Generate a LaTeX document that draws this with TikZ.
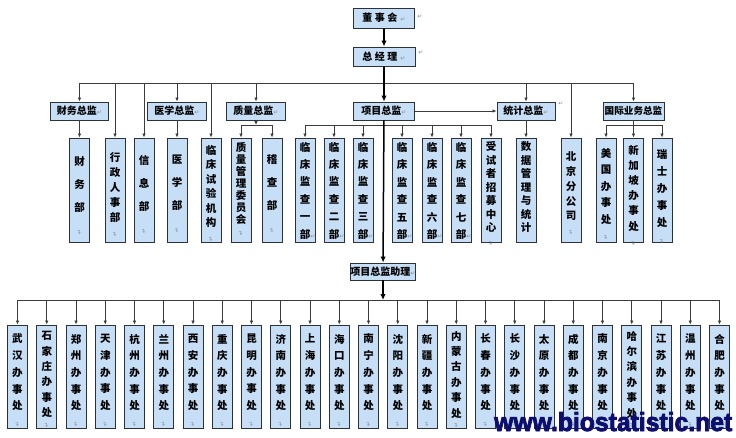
\documentclass[tikz,border=0pt]{standalone}
\usepackage{fontspec}
\usepackage{graphicx}
\setmainfont{Noto Sans CJK SC}
\newfontfamily\djv{DejaVu Sans}
\newfontfamily\wmfont{Liberation Sans}[FakeBold=3]
\usetikzlibrary{arrows.meta}
\definecolor{boxfill}{RGB}{198,222,246}
\definecolor{boxline}{RGB}{45,50,58}
\definecolor{connc}{RGB}{60,60,60}
\definecolor{navy}{RGB}{14,14,112}
\definecolor{mkgray}{RGB}{130,140,150}
\newcommand\retmk{{\djv\mdseries\fontsize{6}{6}\selectfont\textcolor{mkgray}{↵}}}
\newcommand\vretmk{\vphantom{国}\rotatebox{90}{\retmk}}
\tikzset{
  hbox/.style={draw=boxline, fill=boxfill, line width=0.9pt, inner sep=0pt,
    minimum height=18pt, font=\fontsize{10}{10}\selectfont\bfseries},
  vbox/.style={draw=boxline, fill=boxfill, line width=0.9pt, inner sep=0pt,
    minimum width=20pt},
  vtxt/.style={inner sep=0pt, align=center,
    font={\fontsize{10.5}{#1}\selectfont\bfseries}},
  conn/.style={draw=connc, line width=0.8pt},
  arr/.style={conn, -{Latex[length=4pt,width=3.5pt]}},
  bigarr/.style={draw=black, line width=1.5pt, -{Latex[length=6pt,width=5.5pt]}},
  mkt/.style={inner sep=0pt, text=mkgray, font=\djv\fontsize{6}{6}\selectfont},
}
\newcommand\topvb[5]{%
  \node[vbox, minimum height=104pt] (#1) at (#2,190) {};
  \node[vtxt=#3] (#1t) at (#2,#4) {#5};}
\newcommand\botvb[5]{%
  \node[vbox, minimum height=103pt] (#1) at (#2,376.5) {};
  \node[vtxt=#3] (#1t) at (#2,#4) {#5};}
\begin{document}
\begin{tikzpicture}[x=1pt,y=-1pt]
\useasboundingbox (0,0) rectangle (736,437);
\fill[white] (0,0) rectangle (736,437);

% top levels
\node[hbox, minimum width=61pt, minimum height=20pt] (dsh) at (384,18)
  {董\hspace{2.5pt}事\hspace{2.5pt}会\hspace{3pt}\retmk};
\node[mkt] (dshm) at (420,17) {↵};
\node[hbox, minimum width=62pt, minimum height=19pt] (zjl) at (384,56.5)
  {总\hspace{2.5pt}经\hspace{2.5pt}理\hspace{3pt}\retmk};
\node[mkt] (zjlm) at (421,53) {↵};

% level 2
\node[hbox, minimum width=58pt] (cwzj) at (79.5,111) {财务总监\retmk};
\node[hbox, minimum width=59pt] (yxzj) at (177,111) {医学总监\retmk};
\node[hbox, minimum width=59pt] (zlzj) at (256,111) {质量总监\retmk};
\node[hbox, minimum width=61pt] (xmzj) at (384,111) {项目总监\retmk};
\node[hbox, minimum width=58pt] (tjzj) at (526,111) {统计总监\retmk};
\node[mkt] (tjm) at (561,104) {↵};
\node[hbox, minimum width=61pt, font=\fontsize{9.6}{10}\selectfont\bfseries] (gjzj) at (633.5,111) {国际业务总监};

% level 3
\topvb{cwb}{79.5}{23}{195.5}{财\\务\\部\\\vretmk}
\topvb{xzrs}{115}{15}{194.5}{行\\政\\人\\事\\部\\\vretmk}
\topvb{xxb}{144}{23}{194.5}{信\\息\\部\\\vretmk}
\topvb{yxb}{177}{23}{194.5}{医\\学\\部\\\vretmk}
\topvb{lcsy}{211}{14.5}{193.5}{临\\床\\试\\验\\机\\构\\\vretmk}
\topvb{zlgl}{241}{12}{189}{质\\量\\管\\理\\委\\员\\会\\\vretmk}
\topvb{jcb}{272}{23}{193.5}{稽\\查\\部\\\vretmk}
\topvb{jc1}{305}{17.4}{190.5}{临\\床\\监\\查\\一\\部\rlap{\retmk}}
\topvb{jc2}{334}{17.4}{190.5}{临\\床\\监\\查\\二\\部\rlap{\retmk}}
\topvb{jc3}{363}{17.4}{190.5}{临\\床\\监\\查\\三\\部\rlap{\retmk}}
\topvb{jc5}{402}{17.4}{191}{临\\床\\监\\查\\五\\部\rlap{\retmk}}
\topvb{jc6}{432}{17.4}{191}{临\\床\\监\\查\\六\\部\rlap{\retmk}}
\topvb{jc7}{461}{17.4}{191}{临\\床\\监\\查\\七\\部\rlap{\retmk}}
\topvb{zm}{491}{13.5}{194}{受\\试\\者\\招\\募\\中\\心\\\vretmk}
\topvb{sjgl}{526}{13.5}{187.5}{数\\据\\管\\理\\与\\统\\计}
\topvb{bjfgs}{571}{14.7}{193.75}{北\\京\\分\\公\\司\\\vretmk}
\topvb{mg}{606}{16.5}{194.25}{美\\国\\办\\事\\处\\\vretmk}
\topvb{xjp}{633.5}{15.2}{195.6}{新\\加\\坡\\办\\事\\处\\\vretmk}
\topvb{rs}{662}{17}{196.5}{瑞\\士\\办\\事\\处\\\vretmk}

% assistant
\node[hbox, minimum width=64pt, minimum height=17pt] (zl) at (383,271.5) {项目总监助理\retmk};

% offices
\botvb{b0}{17.5}{16.7}{380.75}{武\\汉\\办\\事\\处\\\vretmk}
\botvb{b1}{46.75}{15.4}{379.7}{石\\家\\庄\\办\\事\\处\\[-5pt]\vretmk}
\botvb{b2}{76}{16.7}{380.75}{郑\\州\\办\\事\\处\\\vretmk}
\botvb{b3}{105.25}{16.7}{380.75}{天\\津\\办\\事\\处\\\vretmk}
\botvb{b4}{134.5}{16.7}{380.75}{杭\\州\\办\\事\\处\\\vretmk}
\botvb{b5}{163.75}{16.7}{380.75}{兰\\州\\办\\事\\处\\\vretmk}
\botvb{b6}{193}{16.7}{380.75}{西\\安\\办\\事\\处\\\vretmk}
\botvb{b7}{222.25}{16.7}{380.75}{重\\庆\\办\\事\\处\\\vretmk}
\botvb{b8}{251.5}{16.7}{380.75}{昆\\明\\办\\事\\处\\\vretmk}
\botvb{b9}{280.75}{16.7}{380.75}{济\\南\\办\\事\\处\\\vretmk}
\botvb{b10}{310}{16.7}{380.75}{上\\海\\办\\事\\处\\\vretmk}
\botvb{b11}{339.25}{16.7}{380.75}{海\\口\\办\\事\\处\\\vretmk}
\botvb{b12}{368.5}{16.7}{380.75}{南\\宁\\办\\事\\处\\\vretmk}
\botvb{b13}{397.75}{16.7}{380.75}{沈\\阳\\办\\事\\处\\\vretmk}
\botvb{b14}{427}{16.7}{380.75}{新\\疆\\办\\事\\处\\\vretmk}
\botvb{b15}{456.25}{15.4}{379.7}{内\\蒙\\古\\办\\事\\处\\[-5pt]\vretmk}
\botvb{b16}{485.5}{16.7}{380.75}{长\\春\\办\\事\\处\\\vretmk}
\botvb{b17}{514.75}{16.7}{380.75}{长\\沙\\办\\事\\处\\\vretmk}
\botvb{b18}{544}{16.7}{380.75}{太\\原\\办\\事\\处\\\vretmk}
\botvb{b19}{573.25}{16.7}{380.75}{成\\都\\办\\事\\处\\\vretmk}
\botvb{b20}{602.5}{16.7}{380.75}{南\\京\\办\\事\\处\\\vretmk}
\botvb{b21}{631.75}{15.4}{379.7}{哈\\尔\\滨\\办\\事\\处\\[-5pt]\vretmk}
\botvb{b22}{661}{16.7}{380.75}{江\\苏\\办\\事\\处\\\vretmk}
\botvb{b23}{690.25}{16.7}{380.75}{温\\州\\办\\事\\处\\\vretmk}
\botvb{b24}{719.5}{16.7}{380.75}{合\\肥\\办\\事\\处\\\vretmk}

% connectors
\coordinate (tb) at (0,83);
\coordinate (sb) at (0,125);
\coordinate (bb) at (0,300);
\draw[bigarr] (dsh) -- (zjl);
\draw[conn] (cwzj |- tb) -- (gjzj |- tb);
\foreach \n in {cwzj,xzrs,xxb,yxzj,lcsy,zlzj,tjzj,bjfgs,gjzj}
  \draw[arr] (\n |- tb) -- (\n);
\draw[bigarr] (zjl) -- (xmzj);
\draw[arr] (cwzj) -- (cwb);
\draw[arr] (yxzj) -- (yxb);
\draw[arr] (zlzj) -- (zlzj |- sb);
\draw[conn] (zlgl |- sb) -- (jcb |- sb);
\draw[arr] (zlgl |- sb) -- (zlgl);
\draw[arr] (jcb |- sb) -- (jcb);
\draw[conn] (jc1 |- sb) -- (zm |- sb);
\foreach \n in {jc1,jc2,jc3,jc5,jc6,jc7,zm}
  \draw[arr] (\n |- sb) -- (\n);
\draw[arr] (xmzj) -- (tjzj);
\draw[arr] (tjzj) -- (sjgl);
\draw[conn] (gjzj) -- (gjzj |- sb);
\draw[conn] (mg |- sb) -- (rs |- sb);
\foreach \n in {mg,xjp,rs}
  \draw[arr] (\n |- sb) -- (\n);
\draw[bigarr] (xmzj) -- (zl);
\draw[bigarr] (zl) -- (zl |- bb);
\draw[conn] (b0 |- bb) -- (b24 |- bb);
\foreach \i in {0,...,24}
  \draw[arr] (b\i |- bb) -- (b\i);

% watermark
\node[anchor=base west, inner sep=0pt, text=navy] (wm) at (494,431)
  {\resizebox{238pt}{19pt}{\wmfont\bfseries www.biostatistic.net}};
\end{tikzpicture}
\end{document}
